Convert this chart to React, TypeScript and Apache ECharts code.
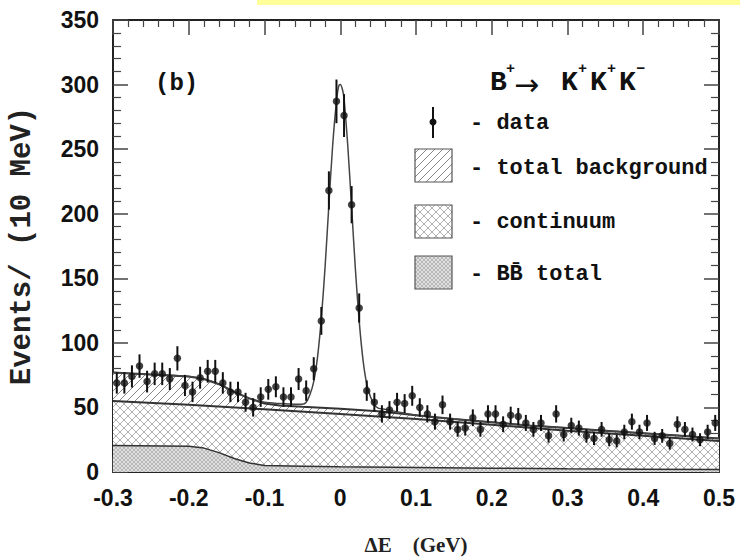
import React, { useEffect, useRef } from 'react';
import * as echarts from 'echarts';

// Histogram: 10 MeV bins from -0.3 to 0.5 GeV
const binStart = -0.3;
const binWidth = 0.01;
const counts = [
  69, 69, 74, 82, 70, 76, 76, 72, 88, 67,
  62, 73, 78, 78, 69, 62, 62, 54, 50, 58,
  64, 66, 58, 58, 72, 63, 80, 117, 218, 287,
  276, 207, 127, 63, 54, 45, 48, 54, 53, 59,
  50, 45, 39, 52, 39, 33, 34, 42, 33, 45,
  45, 37, 44, 43, 38, 33, 38, 28, 45, 29,
  36, 34, 28, 26, 33, 25, 24, 31, 39, 31,
  38, 26, 28, 22, 37, 33, 29, 25, 31, 38,
];
const countErrors = [
  8.3, 8.3, 8.6, 9.1, 8.4, 8.7, 8.7, 8.5, 9.4, 8.2,
  7.9, 8.5, 8.8, 8.8, 8.3, 7.9, 7.9, 7.3, 7.1, 7.6,
  8.0, 8.1, 7.6, 7.6, 8.5, 7.9, 8.9, 10.8, 14.8, 16.9,
  16.6, 14.4, 11.3, 7.9, 7.3, 6.7, 6.9, 7.3, 7.3, 7.7,
  7.1, 6.7, 6.2, 7.2, 6.2, 5.7, 5.8, 6.5, 5.7, 6.7,
  6.7, 6.1, 6.6, 6.6, 6.2, 5.7, 6.2, 5.3, 6.7, 5.4,
  6.0, 5.8, 5.3, 5.1, 5.7, 5.0, 4.9, 5.6, 6.2, 5.6,
  6.2, 5.1, 5.3, 4.7, 6.1, 5.7, 5.4, 5.0, 5.6, 6.2,
];

// Total fit (signal + background)
const fitX = [
  -0.3, -0.25, -0.2, -0.18, -0.16, -0.14, -0.12, -0.1, -0.08, -0.06, -0.05,
  -0.045, -0.04, -0.035, -0.03, -0.025, -0.02, -0.015, -0.01, -0.005, -0.002,
  0, 0.003, 0.005, 0.01, 0.015, 0.02, 0.025, 0.03, 0.035, 0.04, 0.045, 0.05,
  0.06, 0.08, 0.1, 0.15, 0.2, 0.25, 0.3, 0.35, 0.4, 0.45, 0.5,
];
const fitY = [
  77, 75.5, 74, 72, 68, 62, 57, 54, 53, 52.5, 52.5,
  54, 60, 70, 89, 119, 159, 207, 253, 287, 299,
  300, 296, 289, 252, 205, 157, 117, 87, 68, 58, 52, 49.5,
  48.5, 46, 44, 41, 38.5, 36, 34, 32, 30, 28, 26,
];

// Total background
const totalBgX = [-0.3, -0.25, -0.2, -0.18, -0.16, -0.14, -0.12, -0.1, -0.08, -0.05, 0, 0.05, 0.1, 0.15, 0.2, 0.25, 0.3, 0.35, 0.4, 0.45, 0.5];
const totalBgY = [77, 75.5, 74, 72, 68, 62, 57, 53, 51.5, 50.5, 49, 47, 44, 41, 38.5, 36, 34, 32, 30, 28, 26];

// Continuum
const continuumX = [-0.3, -0.2, -0.1, 0, 0.1, 0.2, 0.3, 0.4, 0.5];
const continuumY = [55, 52, 48.5, 45, 41, 36.5, 32, 28, 24];

// BBbar total
const bbX = [-0.3, -0.2, -0.18, -0.16, -0.14, -0.12, -0.1, -0.05, 0, 0.1, 0.2, 0.3, 0.4, 0.5];
const bbY = [20.5, 20, 18.5, 15, 10.5, 7, 5, 4.5, 4, 3.5, 3, 2.5, 2.2, 2];

const legendLabels = ['- data', '- total background', '- continuum', '- BB\u0304 total'];

const pairs = (xs: number[], ys: number[]) => xs.map((x, i) => [x, ys[i]]);

function makePattern(kind: 'diag' | 'cross' | 'gray') {
  const size = kind === 'gray' ? 4 : 8;
  const c = document.createElement('canvas');
  c.width = size;
  c.height = size;
  const g = c.getContext('2d')!;
  g.fillStyle = kind === 'gray' ? '#e0e0e0' : '#ffffff';
  g.fillRect(0, 0, size, size);
  g.strokeStyle = kind === 'gray' ? '#b8b8b8' : kind === 'diag' ? '#8a8a8a' : '#b0b0b0';
  g.lineWidth = 1;
  g.beginPath();
  g.moveTo(0, size); g.lineTo(size, 0);
  g.moveTo(-1, 1); g.lineTo(1, -1);
  g.moveTo(size - 1, size + 1); g.lineTo(size + 1, size - 1);
  if (kind !== 'diag') {
    g.moveTo(0, 0); g.lineTo(size, size);
    g.moveTo(size - 1, -1); g.lineTo(size + 1, 1);
    g.moveTo(-1, size - 1); g.lineTo(1, size + 1);
  }
  g.stroke();
  return { image: c.toDataURL(), repeat: 'repeat', imageWidth: size, imageHeight: size };
}

export default function App() {
  const ref = useRef<HTMLDivElement>(null);
  useEffect(() => {
    if (!ref.current) return;
    document.body.style.margin = '0';
    const chart = echarts.init(ref.current, undefined, { renderer: 'svg' });
    const diag = makePattern('diag');
    const cross = makePattern('cross');
    const gray = makePattern('gray');

    const points = counts.map((v, i) => [binStart + binWidth * (i + 0.5), v, countErrors[i]]);

    const tickFont = { fontFamily: 'Liberation Sans', fontWeight: 'bold' as const, fontSize: 23, color: '#111' };
    const mono = '"Liberation Mono", "DejaVu Sans Mono", monospace';

    const xCommon = {
      type: 'value' as const,
      min: -0.3,
      max: 0.5,
      interval: 0.1,
      axisLine: { show: true, onZero: false, lineStyle: { color: '#222', width: 2 } },
      axisTick: { show: true, inside: true, length: 15, lineStyle: { color: '#444', width: 1.5 } },
      minorTick: { show: true, splitNumber: 5, length: 7, lineStyle: { color: '#444', width: 1.2 } },
      splitLine: { show: false },
    };
    const yCommon = {
      type: 'value' as const,
      min: 0,
      max: 350,
      interval: 50,
      axisLine: { show: true, onZero: false, lineStyle: { color: '#222', width: 2 } },
      axisTick: { show: true, inside: true, length: 15, lineStyle: { color: '#444', width: 1.5 } },
      minorTick: { show: true, splitNumber: 5, length: 8, lineStyle: { color: '#444', width: 1.2 } },
      splitLine: { show: false },
    };

    const legendBoxes = [
      { y: 149, fill: diag },
      { y: 205, fill: cross },
      { y: 256, fill: gray },
    ];
    const legendTextY = [123, 168, 222, 274];

    const textStyle = (text: string, x: number, y: number, font: string, fill = '#111') => ({
      type: 'text',
      x,
      y,
      style: { text, font, fill, align: 'left', verticalAlign: 'middle', textAlign: 'left', textVerticalAlign: 'middle' },
    });

    chart.setOption({
      animation: false,
      backgroundColor: '#ffffff',
      grid: { left: 110, right: 21, top: 20, bottom: 80 },
      xAxis: [
        {
          ...xCommon,
          position: 'bottom',
          name: '\u0394E    (GeV)',
          nameLocation: 'middle',
          nameGap: 62,
          nameTextStyle: { fontFamily: 'Liberation Serif', fontSize: 21, fontWeight: 'bold', color: '#222' },
          axisLabel: {
            ...tickFont,
            margin: 14,
            formatter: (v: number) => (Math.abs(v) < 1e-9 ? '0' : v.toFixed(1)),
          },
        },
        { ...xCommon, position: 'top', axisLabel: { show: false } },
      ],
      yAxis: [
        {
          ...yCommon,
          position: 'left',
          name: 'Events/ (10 MeV)',
          nameLocation: 'middle',
          nameGap: 76,
          nameTextStyle: { fontFamily: mono, fontSize: 29, fontWeight: 'bold', color: '#222' },
          axisLabel: { ...tickFont, margin: 14 },
        },
        { ...yCommon, position: 'right', axisLabel: { show: false } },
      ],
      series: [
        {
          name: 'total background',
          type: 'line',
          data: pairs(totalBgX, totalBgY),
          showSymbol: false,
          symbol: 'none',
          lineStyle: { color: '#333', width: 2 },
          areaStyle: { color: diag, opacity: 1, origin: 'start' },
          z: 2,
        },
        {
          name: 'continuum',
          type: 'line',
          data: pairs(continuumX, continuumY),
          showSymbol: false,
          symbol: 'none',
          lineStyle: { color: '#333', width: 2 },
          areaStyle: { color: cross, opacity: 1, origin: 'start' },
          z: 3,
        },
        {
          name: 'BB total',
          type: 'line',
          data: pairs(bbX, bbY),
          showSymbol: false,
          symbol: 'none',
          lineStyle: { color: '#333', width: 1.5 },
          areaStyle: { color: gray, opacity: 1, origin: 'start' },
          z: 4,
        },
        {
          name: 'fit',
          type: 'line',
          data: pairs(fitX, fitY),
          smooth: 0.3,
          showSymbol: false,
          symbol: 'none',
          lineStyle: { color: '#444', width: 1.5 },
          z: 5,
        },
        {
          name: 'errors',
          type: 'custom',
          data: points,
          encode: { x: 0, y: 1 },
          z: 6,
          renderItem: (params: any, api: any) => {
            const x = api.value(0);
            const y = api.value(1);
            const e = api.value(2);
            const p1 = api.coord([x, y + e]);
            const p2 = api.coord([x, y - e]);
            return {
              type: 'line',
              shape: { x1: p1[0], y1: p1[1], x2: p2[0], y2: p2[1] },
              style: { stroke: '#111', lineWidth: 2 },
            };
          },
        },
        {
          name: 'data',
          type: 'scatter',
          data: points.map((p) => [p[0], p[1]]),
          symbol: 'circle',
          symbolSize: 7.5,
          itemStyle: { color: '#111' },
          z: 7,
        },
      ],
      graphic: [
        { type: 'rect', left: 257, top: 0, shape: { width: 483, height: 5 }, style: { fill: '#ffff99' }, z: 10 },
        textStyle('(b)', 155, 83, `bold 24px ${mono}`),
        textStyle('B', 490, 82, `bold 28px ${mono}`),
        textStyle('+', 506, 69, `bold 15px ${mono}`),
        textStyle('\u2192', 514, 84, '30px "DejaVu Sans"'),
        textStyle('K', 561, 82, `bold 28px ${mono}`),
        textStyle('+', 578, 69, `bold 15px ${mono}`),
        textStyle('K', 590, 82, `bold 28px ${mono}`),
        textStyle('+', 607, 69, `bold 15px ${mono}`),
        textStyle('K', 619, 82, `bold 28px ${mono}`),
        textStyle('\u2212', 636, 69, `bold 15px ${mono}`),
        {
          type: 'line',
          shape: { x1: 433, y1: 107, x2: 433, y2: 138 },
          style: { stroke: '#111', lineWidth: 2 },
          z: 10,
        },
        { type: 'circle', shape: { cx: 433, cy: 122, r: 3.5 }, style: { fill: '#111' }, z: 10 },
        ...legendBoxes.map((b) => ({
          type: 'rect',
          shape: { x: 415, y: b.y, width: 37, height: 33 },
          style: { fill: b.fill, stroke: '#555', lineWidth: 1.2 },
          z: 10,
        })),
        ...legendLabels.map((t, i) => ({ ...textStyle(t, 470, legendTextY[i], `bold 22px ${mono}`), z: 10 })),
      ],
    });
    return () => chart.dispose();
  }, []);
  return <div ref={ref} style={{ position: 'fixed', left: 0, top: 0, width: 740, height: 560, background: '#fff' }} />;
}
